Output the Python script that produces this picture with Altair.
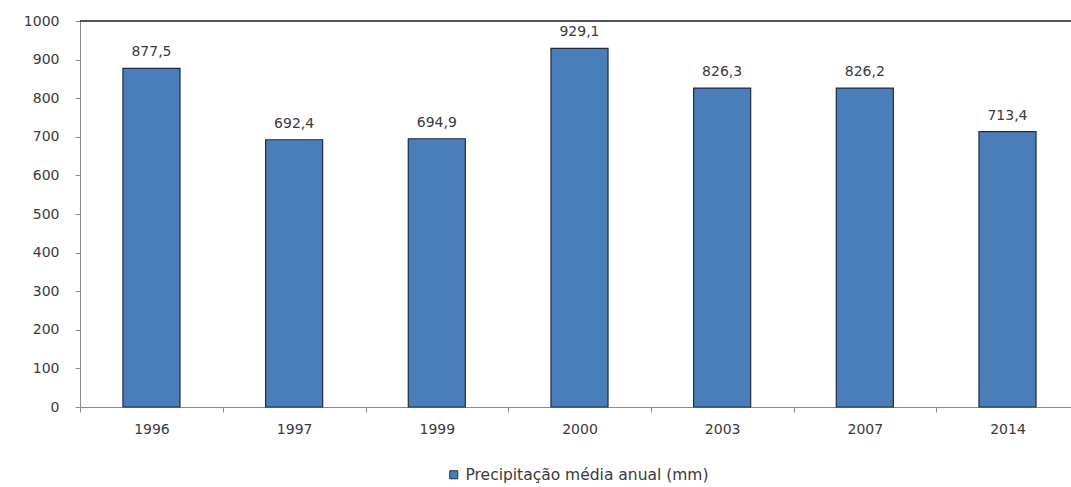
import altair as alt
import pandas as pd

# Annual mean precipitation per survey year
anos = ["1996", "1997", "1999", "2000", "2003", "2007", "2014"]
precipitacao = [877.5, 692.4, 694.9, 929.1, 826.3, 826.2, 713.4]
serie = "Precipitação média anual (mm)"
y_ticks = list(range(0, 1001, 100))

df = pd.DataFrame({"ano": anos, "valor": precipitacao, "serie": serie})

FONT = "DejaVu Sans"
TEXT = "#3a3a3a"
AXIS_GREY = "#8c8c8c"
BAR_FILL = "#4a7ebb"
BAR_EDGE = "#1d2c45"

x_scale = alt.Scale(paddingInner=0.6, paddingOuter=0.273, align=0.551)
y_scale = alt.Scale(domain=[0, 1000], nice=False)

x_axis = alt.Axis(
    title=None,
    labelAngle=0,
    labelFont=FONT,
    labelFontSize=14,
    labelColor=TEXT,
    labelPadding=10,
    domainColor=AXIS_GREY,
    tickColor=AXIS_GREY,
    tickSize=5,
    tickOffset=-71.3,
    labelOffset=71.3,
)
y_axis = alt.Axis(
    title=None,
    values=y_ticks,
    format="d",
    grid=False,
    labelFont=FONT,
    labelFontSize=14,
    labelColor=TEXT,
    labelPadding=16,
    labelOverlap=False,
    domainColor=AXIS_GREY,
    tickColor=AXIS_GREY,
    tickSize=5,
)

base = alt.Chart(df)

bars = base.mark_bar(stroke=BAR_EDGE, strokeWidth=1.2).encode(
    x=alt.X("ano:N", sort=anos, scale=x_scale, axis=x_axis),
    y=alt.Y("valor:Q", scale=y_scale, axis=y_axis),
    color=alt.Color(
        "serie:N",
        scale=alt.Scale(range=[BAR_FILL]),
        legend=alt.Legend(
            title=None,
            orient="none",
            legendX=366,
            legendY=446,
            symbolType="square",
            symbolSize=64,
            symbolStrokeColor=BAR_EDGE,
            symbolStrokeWidth=1,
            symbolOpacity=1,
            labelFont=FONT,
            labelFontSize=15.5,
            labelColor=TEXT,
            labelOffset=4,
            labelLimit=0,
        ),
    ),
)

labels = base.transform_calculate(
    rotulo="replace(format(datum.valor, '.1f'), '.', ',')"
).mark_text(
    font=FONT, fontSize=14, color=TEXT, baseline="bottom", dy=-9
).encode(
    x=alt.X("ano:N", sort=anos, scale=x_scale, axis=x_axis),
    y=alt.Y("valor:Q", scale=y_scale, axis=y_axis),
    text="rotulo:N",
)

# Top border of the plot area at the axis maximum
top_line = alt.Chart(pd.DataFrame({"topo": [1000]})).mark_rule(
    color="#1a1a1a", strokeWidth=1.6
).encode(y=alt.Y("topo:Q", scale=y_scale, axis=y_axis))

chart = (
    alt.layer(bars, labels, top_line)
    .properties(
        width=991,
        height=386,
        autosize=alt.AutoSizeParams(type="none"),
        padding={"left": 80, "top": 21, "right": 0, "bottom": 80},
        background="white",
    )
    .configure_view(stroke=None)
)

chart.save("out.html", embed_options={"renderer": "svg", "actions": False})
